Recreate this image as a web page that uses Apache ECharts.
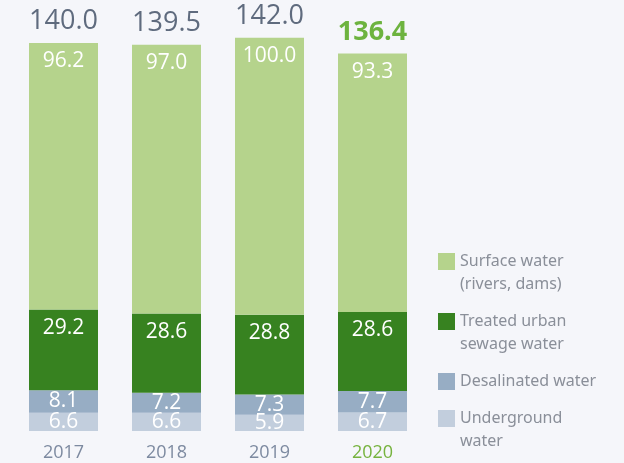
<!DOCTYPE html>
<html>
<head>
<meta charset="utf-8">
<script src="https://cdn.jsdelivr.net/npm/echarts@6/dist/echarts.min.js"></script>
<style>
  html, body { margin: 0; padding: 0; background: #f5f6fa; }
  #main { width: 624px; height: 463px; }
</style>
</head>
<body>
<div id="main"></div>
<script>
const years = ['2017', '2018', '2019', '2020']
const surface = [96.2, 97.0, 100.0, 93.3]
const treated = [29.2, 28.6, 28.8, 28.6]
const desalinated = [8.1, 7.2, 7.3, 7.7]
const underground = [6.6, 6.6, 5.9, 6.7]
const totals = [140.0, 139.5, 142.0, 136.4]
const legendNames = ['Surface water', 'Treated urban', 'Desalinated water', 'Underground']
const legendTexts = ['Surface water\n(rivers, dams)', 'Treated urban\nsewage water', 'Desalinated water', 'Underground\nwater']

const numFont = 'Open Sans'
const chart = echarts.init(document.getElementById('main'))

const segLabel = (pos, dist) => ({
  show: true,
  position: pos,
  distance: dist,
  color: '#fff',
  fontSize: 21,
  fontFamily: numFont,
  formatter: p => p.value.toFixed(1)
})

// one legend per item so two-line entries line up with the first line
const legendTops = [227, 287, 370, 384]
const legends = legendNames.map((name, i) => {
  const twoLine = legendTexts[i].indexOf('\n') > -1
  return {
    orient: 'vertical',
    left: 438,
    top: legendTops[i],
    padding: 0,
    itemWidth: 17,
    itemHeight: 17,
    icon: 'rect',
    selectedMode: false,
    textStyle: { fontSize: 16, lineHeight: 23, color: '#8a8f99', fontFamily: 'Noto Sans' },
    formatter: () => (twoLine ? ' \n' : '') + legendTexts[i],
    data: [name]
  }
})

chart.setOption({
  backgroundColor: '#f5f6fa',
  animation: false,
  grid: { left: 12, width: 412, top: 15.5, height: 415.5 },
  xAxis: {
    type: 'category',
    data: years,
    axisLine: { show: false },
    axisTick: { show: false },
    axisLabel: {
      margin: 13,
      fontSize: 18,
      fontFamily: numFont,
      color: (v, i) => i === 3 ? '#76b33e' : '#7d8aa0'
    }
  },
  yAxis: { type: 'value', min: 0, max: 150, show: false },
  legend: legends,
  series: [
    {
      name: 'Underground', type: 'bar', stack: 'w', barWidth: 69,
      itemStyle: { color: '#c2cedd' }, data: underground,
      label: segLabel('inside', 0)
    },
    {
      name: 'Desalinated water', type: 'bar', stack: 'w',
      itemStyle: { color: '#97adc4' }, data: desalinated,
      label: segLabel('inside', 0)
    },
    {
      name: 'Treated urban', type: 'bar', stack: 'w',
      itemStyle: { color: '#378220' }, data: treated,
      label: segLabel('insideTop', 8)
    },
    {
      name: 'Surface water', type: 'bar', stack: 'w',
      itemStyle: { color: '#b5d38c' }, data: surface,
      label: segLabel('insideTop', 8)
    },
    {
      name: 'Total', type: 'bar', stack: 'w',
      data: totals.map((t, i) => ({
        value: 0,
        label: i === 3 ? { color: '#6db33f', fontWeight: 'bold' } : {}
      })),
      label: {
        show: true,
        position: 'top',
        distance: 8,
        fontSize: 27,
        fontFamily: numFont,
        color: '#5f6b7e',
        formatter: p => totals[p.dataIndex].toFixed(1)
      }
    }
  ]
})
</script>
</body>
</html>
